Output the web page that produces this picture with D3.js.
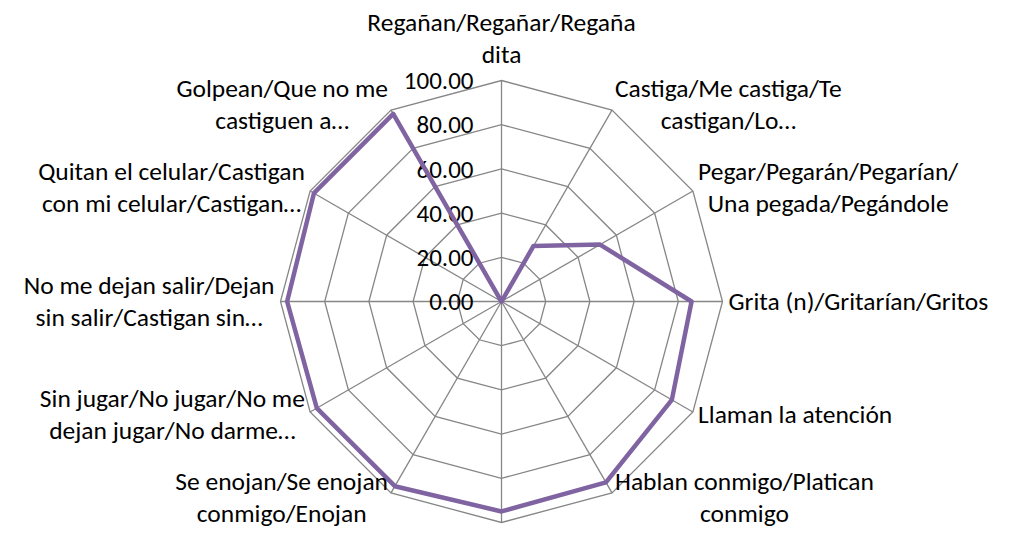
<!DOCTYPE html>
<html>
<head>
<meta charset="utf-8">
<script src="https://cdn.jsdelivr.net/npm/d3@7"></script>
<style>
  html, body { margin: 0; padding: 0; background: #fff; }
  svg { display: block; }
  text { font-family: Carlito, Calibri, Lato, sans-serif; fill: #000; }
</style>
</head>
<body>
<div id="chart"></div>
<script>
// categories, clockwise from the top (the bottom one is cut off in the original)
let categories = [
    ["Regañan/Regañar/Regaña", "dita"],
    ["Castiga/Me castiga/Te", "castigan/Lo…"],
    ["Pegar/Pegarán/Pegarían/", "Una pegada/Pegándole"],
    ["Grita (n)/Gritarían/Gritos"],
    ["Llaman la atención"],
    ["Hablan conmigo/Platican", "conmigo"],
    [""],
    ["Se enojan/Se enojan", "conmigo/Enojan"],
    ["Sin jugar/No jugar/No me", "dejan jugar/No darme…"],
    ["No me dejan salir/Dejan", "sin salir/Castigan sin…"],
    ["Quitan el celular/Castigan", "con mi celular/Castigan…"],
    ["Golpean/Que no me", "castiguen a…"]
];
let values = [0, 29, 51.5, 86, 89, 94.5, 95, 96.5, 96.5, 97, 98, 98];
let ticks = [0, 20, 40, 60, 80, 100];

const w = 1010, h = 533;
const cx = 501.5, cy = 301.5;
const outerRadius = 221;
const labelSize = 25.5, tickSize = 25, lineGap = 32;

let svg = d3.select("#chart")
    .append("svg")
    .attr("width", w)
    .attr("height", h);

let g = svg.append("g")
    .attr("transform", "translate(" + cx + "," + cy + ")");

let r = d3.scaleLinear().domain([0, 100]).range([0, outerRadius]);
let angle = d3.scaleLinear().domain([0, categories.length]).range([0, 2 * Math.PI]);

// grid rings (polygons)
let ring = d3.lineRadial()
    .angle((d, i) => angle(i))
    .curve(d3.curveLinearClosed);

g.selectAll(".ring")
    .data(ticks.slice(1))
    .enter()
    .append("path")
    .attr("d", t => ring.radius(r(t))(categories.map(() => 0)))
    .attr("fill", "none")
    .attr("stroke", "#868686")
    .attr("stroke-width", 1.3);

// spokes
g.selectAll(".spoke")
    .data(categories)
    .enter()
    .append("line")
    .attr("x1", 0).attr("y1", 0)
    .attr("x2", (d, i) => r(100) * Math.sin(angle(i)))
    .attr("y2", (d, i) => -r(100) * Math.cos(angle(i)))
    .attr("stroke", "#868686")
    .attr("stroke-width", 1.3);

// tick labels
g.selectAll(".tick")
    .data(ticks)
    .enter()
    .append("text")
    .attr("x", -28)
    .attr("y", t => -r(t))
    .attr("dy", "0.35em")
    .attr("text-anchor", "end")
    .style("font-size", tickSize + "px")
    .text(t => d3.format(".2f")(t));

// data line
let line = d3.lineRadial()
    .angle((d, i) => angle(i))
    .radius(d => r(d))
    .curve(d3.curveLinearClosed);

g.append("path")
    .attr("d", line(values))
    .attr("fill", "none")
    .attr("stroke", "#8064A2")
    .attr("stroke-width", 4.5)
    .attr("stroke-linejoin", "round");

// category labels
categories.forEach((lines, i) => {
    let a = angle(i);
    let s = Math.sin(a), c = Math.cos(a);
    let ax = (r(100) + 6) * s;
    let ay = -(r(100) + 6) * c;

    let lab = g.append("text")
        .attr("text-anchor", "middle")
        .style("font-size", labelSize + "px");
    lines.forEach((t, k) => {
        lab.append("tspan").attr("x", 0).attr("dy", k == 0 ? 0 : lineGap).text(t);
    });

    let bw = 0;
    lab.selectAll("tspan").each(function() {
        bw = Math.max(bw, this.getComputedTextLength());
    });
    let bh = (lines.length - 1) * lineGap;

    let x = ax, y;
    if (Math.abs(s) > 0.01) x = ax + Math.sign(s) * bw / 2;
    if (Math.abs(s) < 0.01 && c > 0) {
        y = ay - 12 - bh;                 // top label sits above
    } else if (Math.abs(s) < 0.01) {
        y = ay + 24;
    } else {
        y = ay - bh / 2 + 8;
    }
    lab.attr("transform", "translate(" + x + "," + y + ")");
});
</script>
</body>
</html>
